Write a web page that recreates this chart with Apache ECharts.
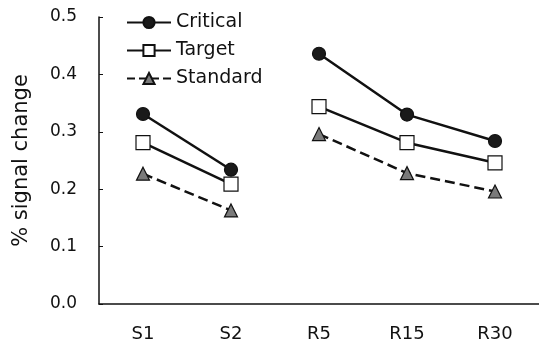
<!DOCTYPE html>
<html>
<head>
<meta charset="utf-8">
<script src="https://cdn.jsdelivr.net/npm/echarts@6/dist/echarts.min.js"></script>
<style>
html,body{margin:0;padding:0;background:#fff;}
#chart{width:539px;height:345px;}
</style>
</head>
<body>
<div id="chart"></div>
<script>
// data
var categories = ['S1', 'S2', 'R5', 'R15', 'R30'];
var critical = [0.331, 0.234, 0.436, 0.330, 0.284];
var target = [0.281, 0.209, 0.344, 0.281, 0.246];
var standard = [0.227, 0.163, 0.296, 0.228, 0.196];

// S block and R block are drawn as separate segments
function part(arr, from, to) {
	return arr.map(function (v, i) { return (i >= from && i < to) ? v : null; });
}

var myChart = echarts.init(document.getElementById('chart'));

var styles = {
	Critical: { symbol: 'circle', symbolSize: 13, fill: '#1a1a1a', line: 'solid' },
	Target: { symbol: 'rect', symbolSize: 14, fill: '#fff', line: 'solid' },
	Standard: { symbol: 'triangle', symbolSize: 13, fill: '#7a7a7a', line: 'dashed' }
};
var values = { Critical: critical, Target: target, Standard: standard };

var series = [];
['Critical', 'Target', 'Standard'].forEach(function (name) {
	var s = styles[name];
	[[0, 2], [2, 5]].forEach(function (r) {
		series.push({
			name: name,
			type: 'line',
			data: part(values[name], r[0], r[1]),
			symbol: s.symbol,
			symbolSize: s.symbolSize,
			showAllSymbol: true,
			connectNulls: false,
			lineStyle: { color: '#111', width: 2.5, type: s.line },
			itemStyle: { color: s.fill, borderColor: '#111', borderWidth: 1.2 },
			animation: false
		});
	});
});

var option = {
	backgroundColor: '#fff',
	textStyle: { fontFamily: 'DejaVu Sans, sans-serif' },
	grid: { left: 99, right: 0, top: 17, bottom: 41, containLabel: false },
	legend: {
		data: ['Critical', 'Target', 'Standard'],
		orient: 'vertical',
		left: 121,
		top: 8,
		itemGap: 9,
		itemWidth: 44,
		itemHeight: 14,
		textStyle: { fontSize: 19, color: '#111' }
	},
	xAxis: {
		type: 'category',
		data: categories,
		boundaryGap: true,
		axisLine: { lineStyle: { color: '#111', width: 1.5 } },
		axisTick: { inside: true, length: 4, alignWithLabel: false, lineStyle: { color: '#111' } },
		axisLabel: { fontSize: 18, color: '#111', margin: 21 }
	},
	yAxis: {
		type: 'value',
		min: 0,
		max: 0.5,
		interval: 0.1,
		name: '% signal change',
		nameLocation: 'middle',
		nameGap: 67,
		nameTextStyle: { fontSize: 21, color: '#111' },
		splitLine: { show: false },
		axisLine: { show: true, lineStyle: { color: '#111', width: 1.5 } },
		axisTick: { show: true, inside: true, length: 4, lineStyle: { color: '#111' } },
		axisLabel: {
			fontSize: 17, color: '#111', margin: 22,
			formatter: function (v) { return v.toFixed(1); }
		}
	},
	series: series
};
myChart.setOption(option);
</script>
</body>
</html>
